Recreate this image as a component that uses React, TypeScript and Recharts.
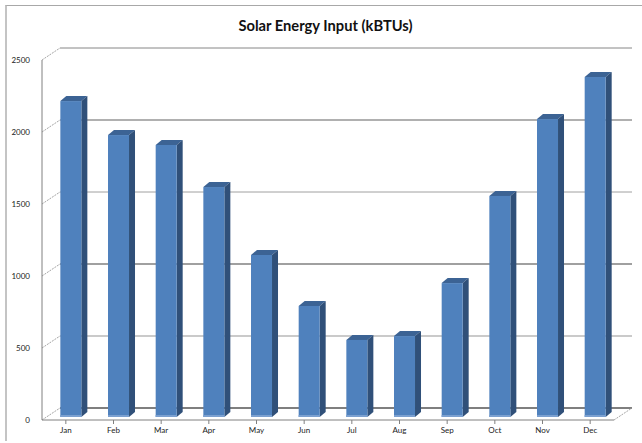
import React from "react";
import { BarChart, Bar, XAxis, YAxis, CartesianGrid } from "recharts";

const months = ["Jan", "Feb", "Mar", "Apr", "May", "Jun", "Jul", "Aug", "Sep", "Oct", "Nov", "Dec"];
const solarInput = [2194, 1958, 1889, 1597, 1125, 771, 535, 562, 930, 1535, 2069, 2361];
const yTicks = [0, 500, 1000, 1500, 2000, 2500];
const gridColors = ["#7f7f7f", "#b8b8b8", "#808080", "#a0a0a0", "#b0b0b0", "#868686"];
const gridWidths = [2, 1.5, 1.5, 1, 2, 1];

const data = months.map((month, i) => ({ month, value: solarInput[i] }));

const DX = 18;
const DY = 12;

function Column(props: any) {
  const { x, y, width, height } = props;
  const left = x + 5;
  const top = y - 3;
  const right = left + width;
  const bottom = top + height;
  const sx = 6;
  const sy = 5;
  return (
    <g>
      <polygon
        points={`${left},${top} ${left + sx},${top - sy} ${right + sx},${top - sy} ${right},${top}`}
        fill="#3c6394"
      />
      <polygon
        points={`${right},${top} ${right + sx},${top - sy} ${right + sx},${bottom - sy} ${right},${bottom}`}
        fill="#305079"
      />
      <rect x={left} y={top} width={width} height={height} fill="#4f81bd" />
      <rect x={left} y={bottom - 2} width={width} height={2} fill="#7ba0d0" />
    </g>
  );
}

function WallLine(props: any) {
  const { x1, y1, x2, y2 } = props;
  const i = Math.round((420 - y1) / 72);
  return (
    <g key={`wall-${i}`}>
      <line x1={x1 + DX} y1={y1 - DY} x2={x2 + DX} y2={y2 - DY} stroke={gridColors[i]} strokeWidth={gridWidths[i]} />
      <line x1={x1} y1={y1} x2={x1 + DX} y2={y1 - DY} stroke="#a6a6a6" strokeWidth={1} strokeDasharray="2 1" />
      {i === 0 ? (
        <line x1={x2} y1={y2} x2={x2 + DX} y2={y2 - DY} stroke="#a6a6a6" strokeWidth={1} strokeDasharray="2 1" />
      ) : null}
    </g>
  );
}

export default function App() {
  return (
    <div style={{ position: "absolute", left: 0, top: 0, width: 642, height: 443, background: "#fff", overflow: "hidden" }}>
      <div style={{ position: "absolute", left: 5, top: 5, width: 640, height: 436, borderLeft: "2px solid #c4c4c4", borderTop: "1px solid #a8a8a8", boxSizing: "border-box" }} />
      <div style={{ position: "absolute", left: 0, top: 16, width: 651, textAlign: "center", fontFamily: "Lato", fontWeight: 700, fontSize: 14.7, lineHeight: "18px", color: "#111" }}>
        Solar Energy Input (kBTUs)
      </div>
      <BarChart
        width={642}
        height={443}
        data={data}
        margin={{ top: 60, right: 28, bottom: 0, left: 0 }}
        barCategoryGap="28%"
        style={{ position: "absolute", left: 0, top: 0 }}
      >
        <CartesianGrid vertical={false} horizontal={(p: any) => <WallLine {...p} />} />
        <XAxis
          dataKey="month"
          stroke="#808080"
          tickLine={{ stroke: "#808080" }}
          tickSize={4}
          tickMargin={3}
          tick={{ fontFamily: "Lato", fontSize: 8, fill: "#222" }}
          interval={0}
          height={23}
        />
        <YAxis
          domain={[0, 2500]}
          ticks={yTicks}
          stroke="#808080"
          tickLine={false}
          tickMargin={6}
          tick={{ fontFamily: "Lato", fontSize: 8, fill: "#222" }}
          width={42}
        />
        <Bar dataKey="value" shape={<Column />} isAnimationActive={false} />
      </BarChart>
    </div>
  );
}
